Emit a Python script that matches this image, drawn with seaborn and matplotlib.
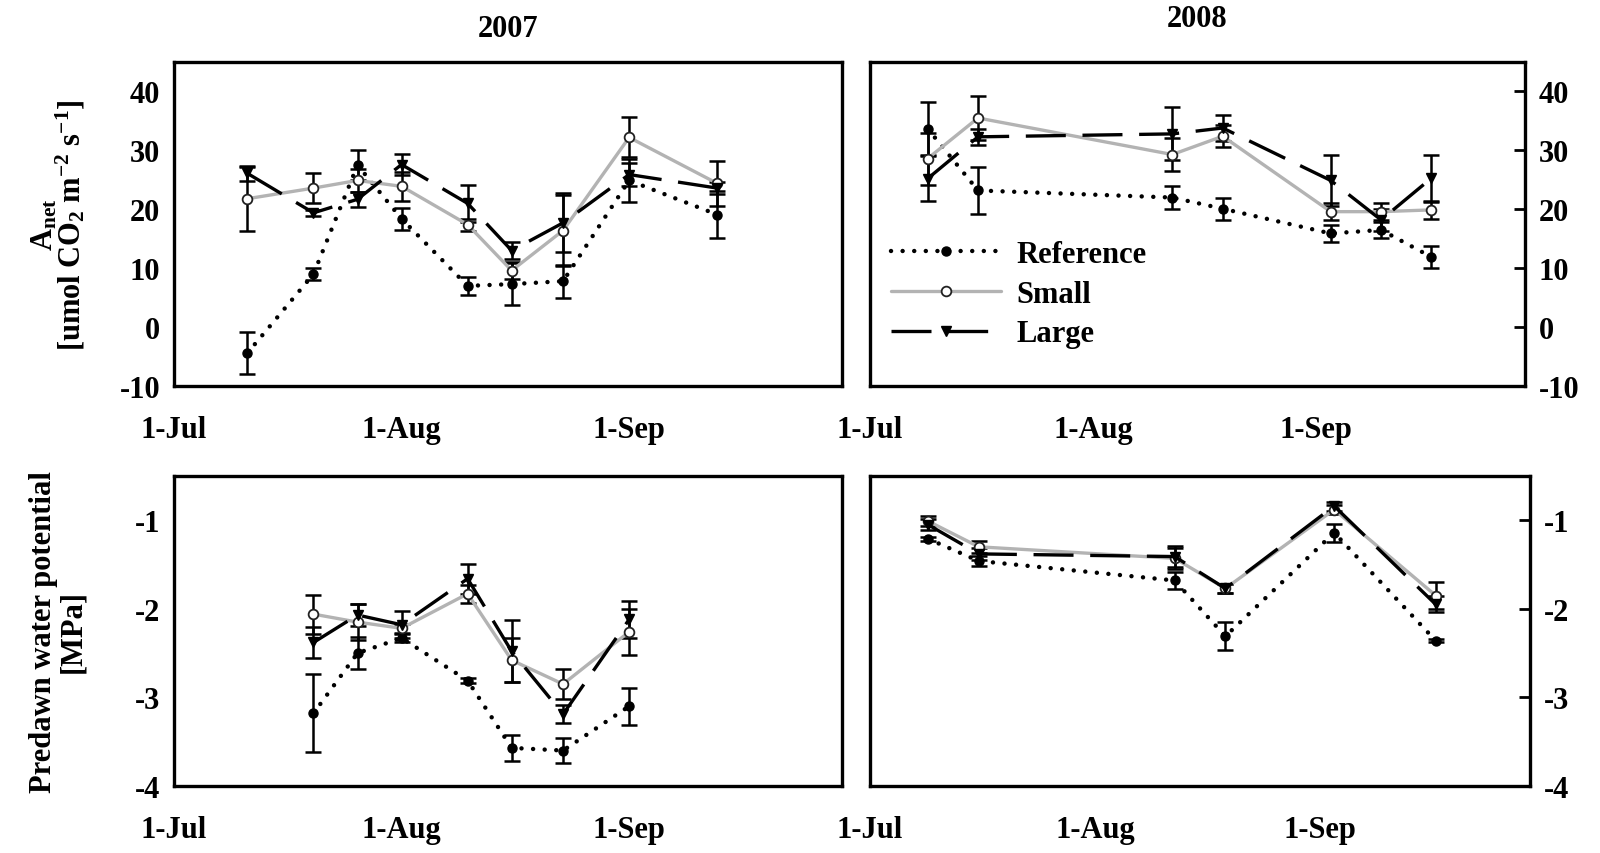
import pandas as pd
import matplotlib
matplotlib.use('Agg')
import matplotlib.pyplot as plt
import seaborn as sns

sns.set_style('white')
plt.rcParams['font.family'] = ['Liberation Serif', 'DejaVu Serif']
plt.rcParams['font.weight'] = 'bold'
plt.rcParams['mathtext.fontset'] = 'custom'
plt.rcParams['mathtext.rm'] = 'Liberation Serif:bold'
plt.rcParams['mathtext.it'] = 'Liberation Serif:bold'
plt.rcParams['mathtext.bf'] = 'Liberation Serif:bold'
plt.rcParams['axes.unicode_minus'] = False
for key in ['text.color', 'axes.labelcolor', 'xtick.color', 'ytick.color', 'axes.edgecolor']:
    plt.rcParams[key] = 'black'

# sampling dates
dates_2007 = ['2007-07-11', '2007-07-20', '2007-07-26', '2007-08-01', '2007-08-10',
              '2007-08-16', '2007-08-23', '2007-09-01', '2007-09-13']
dates_2008 = ['2008-07-09', '2008-07-16', '2008-08-12', '2008-08-19', '2008-09-03',
              '2008-09-10', '2008-09-17']
psi_dates_2007 = dates_2007[1:8]
psi_dates_2008 = ['2008-07-09', '2008-07-16', '2008-08-12', '2008-08-19', '2008-09-03',
                  '2008-09-17']

# Anet 2007
anet07_ref = [-4.4, 9.0, 27.5, 18.4, 7.0, 7.3, 7.8, 24.9, 19.1]
anet07_ref_se = [3.5, 1.0, 2.5, 1.9, 1.5, 3.5, 2.8, 3.7, 4.0]
anet07_small = [21.8, 23.6, 24.9, 23.9, 17.4, 9.6, 16.4, 32.2, 24.4]
anet07_small_se = [5.4, 2.6, 2.0, 2.5, 1.0, 1.5, 6.0, 3.4, 3.8]
anet07_large = [26.1, 19.4, 21.7, 27.6, 21.0, 13.0, 17.7, 25.9, 23.6]
anet07_large_se = [1.3, 0.5, 1.3, 1.8, 3.1, 1.5, 5.0, 2.0, 1.0]

# Anet 2008
anet08_ref = [33.7, 23.2, 22.0, 20.1, 15.9, 16.5, 11.9]
anet08_ref_se = [4.5, 4.0, 2.0, 1.9, 1.4, 1.3, 1.8]
anet08_small = [28.6, 35.5, 29.3, 32.4, 19.6, 19.6, 19.9]
anet08_small_se = [4.4, 3.7, 2.8, 1.9, 1.5, 1.5, 1.5]
anet08_large = [25.2, 32.3, 32.8, 33.8, 24.9, 18.2, 25.3]
anet08_large_se = [3.8, 1.4, 4.5, 2.2, 4.4, 1.8, 4.0]

# predawn water potential 2007
psi07_ref = [-3.18, -2.50, -2.33, -2.81, -3.57, -3.60, -3.10]
psi07_ref_se = [0.44, 0.18, 0.05, 0.03, 0.15, 0.14, 0.21]
psi07_small = [-2.06, -2.15, -2.22, -1.83, -2.58, -2.85, -2.26]
psi07_small_se = [0.22, 0.20, 0.05, 0.10, 0.25, 0.17, 0.26]
psi07_large = [-2.38, -2.07, -2.18, -1.66, -2.48, -3.19, -2.12]
psi07_large_se = [0.17, 0.12, 0.15, 0.17, 0.35, 0.10, 0.21]

# predawn water potential 2008
psi08_ref = [-1.21, -1.46, -1.68, -2.31, -1.14, -2.36]
psi08_ref_se = [0.02, 0.06, 0.10, 0.16, 0.10, 0.02]
psi08_small = [-1.01, -1.30, -1.43, -1.77, -0.88, -1.85]
psi08_small_se = [0.06, 0.07, 0.12, 0.05, 0.05, 0.15]
psi08_large = [-1.05, -1.38, -1.41, -1.77, -0.84, -1.95]
psi08_large_se = [0.06, 0.07, 0.12, 0.05, 0.05, 0.09]

styles = {
    'Reference': dict(color='black', linestyle=(0, (0.01, 2.6)), dash_capstyle='round',
                      linewidth=3.2, marker='o', markersize=6.5, markerfacecolor='black',
                      markeredgecolor='black', markeredgewidth=1),
    'Small': dict(color='#b3b3b3', linestyle='-', linewidth=2.4, marker='o', markersize=7,
                  markerfacecolor='white', markeredgecolor='#222222', markeredgewidth=1.3),
    'Large': dict(color='black', linestyle=(0, (12, 5)), linewidth=2.4, marker='v',
                  markersize=7, markerfacecolor='black', markeredgecolor='black',
                  markeredgewidth=1),
}


def draw_panel(ax, series, year, ylim, yticks, right=False, legend=False):
    for name, dates, vals, errs in series:
        x = pd.to_datetime(dates)
        ax.errorbar(x, vals, yerr=errs, fmt='none', ecolor='black', elinewidth=1.8,
                    capsize=6, capthick=1.8, zorder=2)
        sns.lineplot(x=x, y=vals, ax=ax, errorbar=None, label=name if legend else None,
                     legend=False, zorder=3, **styles[name])
    ax.set_xlim(pd.Timestamp(f'{year}-07-01'), pd.Timestamp(f'{year}-09-30'))
    ax.set_xticks(pd.to_datetime([f'{year}-07-01', f'{year}-08-01', f'{year}-09-01']))
    ax.set_xticklabels(['1-Jul', '1-Aug', '1-Sep'])
    ax.set_ylim(*ylim)
    ax.set_yticks(yticks)
    ax.set_xlabel('')
    ax.set_ylabel('')
    ax.tick_params(axis='x', direction='out', length=8, width=2, labelsize=22, pad=13)
    ax.tick_params(axis='y', direction='in', length=8, width=2, labelsize=22, pad=10)
    if right:
        ax.yaxis.tick_right()
    for sp in ax.spines.values():
        sp.set_linewidth(2.4)
        sp.set_color('black')


fig = plt.figure(figsize=(16, 8.54), dpi=100)
ax_tl = fig.add_axes([0.10875, 0.5468, 0.4175, 0.3794])
ax_tr = fig.add_axes([0.54375, 0.5468, 0.4094, 0.3794])
ax_bl = fig.add_axes([0.10875, 0.0785, 0.4175, 0.363])
ax_br = fig.add_axes([0.54375, 0.0785, 0.4125, 0.363])

draw_panel(ax_tl, [('Reference', dates_2007, anet07_ref, anet07_ref_se),
                   ('Small', dates_2007, anet07_small, anet07_small_se),
                   ('Large', dates_2007, anet07_large, anet07_large_se)],
           2007, (-10, 45), [-10, 0, 10, 20, 30, 40])
draw_panel(ax_tr, [('Reference', dates_2008, anet08_ref, anet08_ref_se),
                   ('Small', dates_2008, anet08_small, anet08_small_se),
                   ('Large', dates_2008, anet08_large, anet08_large_se)],
           2008, (-10, 45), [-10, 0, 10, 20, 30, 40], right=True, legend=True)
draw_panel(ax_bl, [('Reference', psi_dates_2007, psi07_ref, psi07_ref_se),
                   ('Small', psi_dates_2007, psi07_small, psi07_small_se),
                   ('Large', psi_dates_2007, psi07_large, psi07_large_se)],
           2007, (-4, -0.5), [-4, -3, -2, -1])
draw_panel(ax_br, [('Reference', psi_dates_2008, psi08_ref, psi08_ref_se),
                   ('Small', psi_dates_2008, psi08_small, psi08_small_se),
                   ('Large', psi_dates_2008, psi08_large, psi08_large_se)],
           2008, (-4, -0.5), [-4, -3, -2, -1], right=True)

ax_tl.set_title('2007', fontsize=22, fontweight='bold', pad=19)
ax_tr.set_title('2008', fontsize=22, fontweight='bold', pad=26)

ax_tl.set_ylabel('A$_{\\mathrm{net}}$\n[umol CO$_{\\mathrm{2}}$ m$^{\\mathrm{-2}}$ s$^{\\mathrm{-1}}$]',
                 fontsize=22, fontweight='bold', linespacing=0.8)
ax_bl.set_ylabel('Predawn water potential\n[MPa]', fontsize=22, fontweight='bold',
                 linespacing=1.0)
ax_tl.yaxis.set_label_coords(-0.13, 0.5)
ax_bl.yaxis.set_label_coords(-0.13, 0.5)

handles, labels = ax_tr.get_legend_handles_labels()
ax_tr.legend(handles, labels, loc='lower left', bbox_to_anchor=(0.0, 0.05), frameon=False,
             fontsize=22, handlelength=3.6, handletextpad=0.5, labelspacing=0.35,
             numpoints=1, borderaxespad=0.3)

fig.savefig('out.png', dpi=100)
